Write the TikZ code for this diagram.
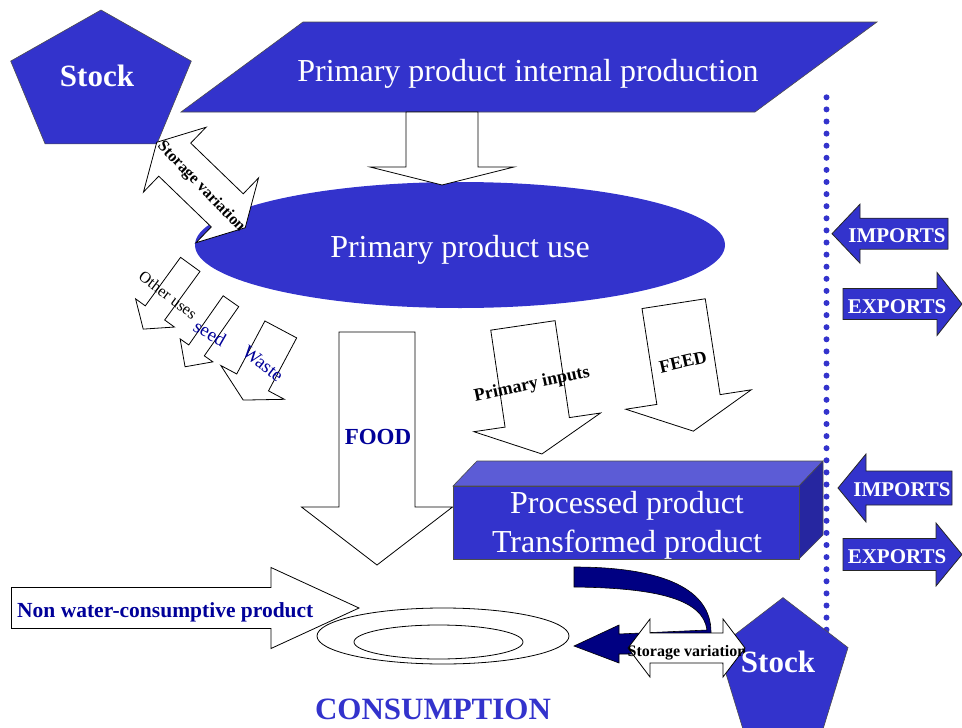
\documentclass[tikz,border=0pt]{standalone}
\usepackage{fontspec}
\setmainfont{Liberation Serif}
\usetikzlibrary{positioning}

\definecolor{fillblue}{RGB}{51,51,204}
\definecolor{topblue}{RGB}{92,92,214}
\definecolor{sideblue}{RGB}{38,38,160}
\definecolor{darkblue}{RGB}{0,0,153}
\definecolor{ribbonnavy}{RGB}{0,0,130}

% block arrow: style, centre, angle, length, shaft, head width, head length
\newcommand{\blockarrow}[7]{%
  \begin{scope}[shift={#2}, rotate=#3]
    \draw[#1] ({-(#4)/2},{-(#5)/2}) -- ({(#4)/2-(#7)},{-(#5)/2}) -- ({(#4)/2-(#7)},{-(#6)/2})
      -- ({(#4)/2},0) -- ({(#4)/2-(#7)},{(#6)/2}) -- ({(#4)/2-(#7)},{(#5)/2})
      -- ({-(#4)/2},{(#5)/2}) -- cycle;
  \end{scope}}
% double block arrow, same arguments
\newcommand{\twowayarrow}[7]{%
  \begin{scope}[shift={#2}, rotate=#3]
    \draw[#1] ({-(#4)/2},0) -- ({-(#4)/2+(#7)},{-(#6)/2}) -- ({-(#4)/2+(#7)},{-(#5)/2})
      -- ({(#4)/2-(#7)},{-(#5)/2}) -- ({(#4)/2-(#7)},{-(#6)/2}) -- ({(#4)/2},0)
      -- ({(#4)/2-(#7)},{(#6)/2}) -- ({(#4)/2-(#7)},{(#5)/2})
      -- ({-(#4)/2+(#7)},{(#5)/2}) -- ({-(#4)/2+(#7)},{(#6)/2}) -- cycle;
  \end{scope}}

\begin{document}
\begin{tikzpicture}[x=1pt, y=-1pt,
			blueshape/.style={fill=fillblue, draw=black!70, line width=0.6pt},
			whitearrow/.style={fill=white, draw=black, line width=0.8pt},
			bluearrow/.style={fill=fillblue, draw=black!85, line width=0.8pt},
			bigtext/.style={text=white, font=\fontsize{32}{39}\selectfont, align=center, inner sep=0pt},
			stocktext/.style={text=white, font=\bfseries\fontsize{31}{37}\selectfont, inner sep=0pt},
			tradetext/.style={text=white, font=\bfseries\fontsize{21}{25}\selectfont, inner sep=0pt},
			flowtext/.style={font=\bfseries\fontsize{18}{21}\selectfont, inner sep=0pt},
			storetext/.style={font=\bfseries\fontsize{16}{19}\selectfont, inner sep=0pt},
			usetext/.style={font=\fontsize{19}{22}\selectfont, text=darkblue, inner sep=0pt}
			]
			\useasboundingbox (0,0) rectangle (962,728);
			\clip (0,0) rectangle (962,728);
			
			% Border line
			\draw[fillblue, line width=6pt, line cap=round, dash pattern=on 0pt off 12.1pt] (826.5,97.3) -- (826.5,645);
			
			% Production
			\draw[blueshape] (101,10) -- (191.3,61.1) -- (156.9,143.9) -- (45.1,143.9) -- (10.7,61.1) -- cycle;
			\node[stocktext, anchor=base] (stock_top) at (97,86) {Stock};
			\draw[blueshape] (303,22) -- (877,22) -- (755,112) -- (181,112) -- cycle;
			\node[bigtext, anchor=base] (production) at (528,81) {Primary product internal production};
			
			% Use
			\fill[fillblue] (460,245) ellipse [x radius=265pt, y radius=63pt];
			\node[bigtext, anchor=base] (use) at (460,257) {Primary product use};
			\blockarrow{whitearrow}{(442,148.5)}{-90}{73}{72}{144}{18}
			\twowayarrow{whitearrow}{(201,185)}{-44}{123}{46}{90}{25}
			\node[storetext, rotate=-46] (storage_top) at (201,187) {Storage variation};
			
			% Other uses
			\blockarrow{whitearrow}{(166.75,296.75)}{-126}{80}{24}{48}{20}
			\blockarrow{whitearrow}{(208,334)}{-125}{80}{19}{40}{20}
			\blockarrow{whitearrow}{(262,364.75)}{-118}{80}{36}{72}{20}
			\node[font=\fontsize{16}{19}\selectfont, inner sep=0pt, rotate=-37] (other) at (168,295) {Other uses};
			\node[usetext, rotate=-30] (seed) at (210,333) {seed};
			\node[usetext, rotate=-38] (waste) at (263,364) {Waste};
			
			% Food, inputs, feed
			\blockarrow{whitearrow}{(377,448.5)}{-90}{233}{76}{151}{58}
			\node[font=\bfseries\fontsize{23}{27}\selectfont, text=darkblue, inner sep=0pt, anchor=base] (food) at (378,444) {FOOD};
			\blockarrow{whitearrow}{(532.4,389.7)}{-81.6}{130}{65}{128}{32}
			\node[flowtext, rotate=12] (inputs) at (532,385) {Primary inputs};
			\blockarrow{whitearrow}{(683.5,367.4)}{-81.2}{129}{64}{127}{32}
			\node[flowtext, rotate=13] (feed) at (683,362) {FEED};
			
			% Processed product
			\draw[fill=topblue, draw=black!70, line width=0.6pt] (453,486) -- (477,461) -- (823,461) -- (799,486) -- cycle;
			\draw[fill=sideblue, draw=black!70, line width=0.6pt] (799,486) -- (823,461) -- (823,535) -- (799,559) -- cycle;
			\draw[blueshape] (453,486) rectangle (799,559);
			\node[bigtext] (processed) at (627,525) {Processed product\\Transformed product};
			
			% Trade
			\blockarrow{bluearrow}{(890,233.7)}{180}{116}{31}{59}{28}
			\node[tradetext, anchor=base] (imports_top) at (897,242) {IMPORTS};
			\blockarrow{bluearrow}{(902.5,304)}{0}{119}{31}{63}{25}
			\node[tradetext, anchor=base] (exports_top) at (897,313) {EXPORTS};
			\blockarrow{bluearrow}{(895,488)}{180}{114}{34}{68}{28}
			\node[tradetext, anchor=base] (imports_bottom) at (902,496) {IMPORTS};
			\blockarrow{bluearrow}{(902.5,554.5)}{0}{119}{32}{63}{26}
			\node[tradetext, anchor=base] (exports_bottom) at (897,563) {EXPORTS};
			
			% Consumption
			\blockarrow{whitearrow}{(185.2,608)}{0}{347.6}{41}{81}{88}
			\node[font=\bfseries\fontsize{21.5}{25}\selectfont, text=darkblue, inner sep=0pt, anchor=base west] (nonwater) at (17,617) {Non water-consumptive product};
			\draw[line width=0.8pt] (443,636) ellipse [x radius=126pt, y radius=28pt];
			\draw[line width=0.8pt] (438.5,642) ellipse [x radius=84.5pt, y radius=17pt];
			\node[font=\bfseries\fontsize{31}{37}\selectfont, text=fillblue, inner sep=0pt, anchor=base] (consumption) at (433,719) {CONSUMPTION};
			
			% Final stock
			\draw[fill=ribbonnavy, draw=black, line width=0.6pt] (574,567) .. controls (665,567) and (711,590) .. (711,632)
				-- (711,654) -- (619,654) -- (619,663) -- (574,646) -- (619,625) -- (619,634) -- (707,630)
				.. controls (703,600) and (660,588) .. (574,587) -- cycle;
			\draw[blueshape] (783,597.6) -- (848,647.6) -- (823.2,728.6) -- (742.8,728.6) -- (718,647.6) -- cycle;
			\twowayarrow{whitearrow}{(686.5,648)}{0}{117}{30}{58}{22}
			\node[storetext, anchor=base] (storage_bottom) at (687,656) {Storage variation};
			\node[stocktext, anchor=base] (stock_bottom) at (778,672) {Stock};
		\end{tikzpicture}
\end{document}
